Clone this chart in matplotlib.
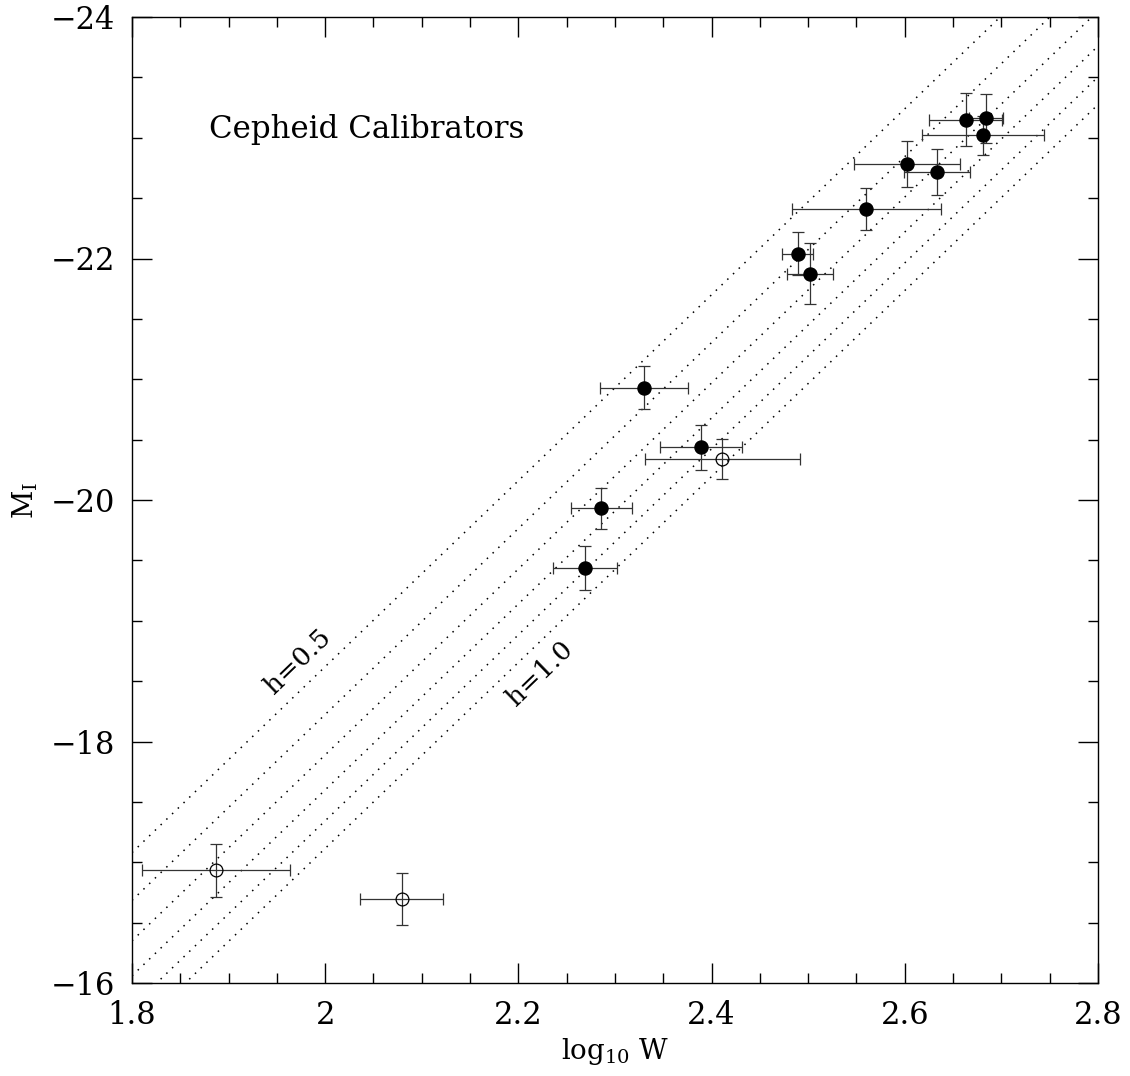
import numpy as np
import matplotlib
matplotlib.use("Agg")
import matplotlib.pyplot as plt
from matplotlib.ticker import MultipleLocator, FuncFormatter

# ---- data ----
filled_logw = [2.663, 2.684, 2.681, 2.602, 2.633, 2.560, 2.489, 2.502,
               2.330, 2.389, 2.286, 2.269]
filled_mag = [-23.15, -23.16, -23.02, -22.78, -22.72, -22.41, -22.04, -21.875,
              -20.93, -20.435, -19.93, -19.435]
filled_xerr = [0.038, 0.018, 0.063, 0.055, 0.034, 0.077, 0.016, 0.024,
               0.046, 0.042, 0.032, 0.033]
filled_yerr = [0.22, 0.20, 0.16, 0.19, 0.19, 0.17, 0.18, 0.25,
               0.18, 0.19, 0.17, 0.18]

open_logw = [2.411, 1.887, 2.079]
open_mag = [-20.34, -16.934, -16.694]
open_xerr = [0.080, 0.077, 0.043]
open_yerr = [0.167, 0.22, 0.217]

# Tully-Fisher relation lines: M = tf_zero + tf_slope*(logW - tf_pivot) + 5 log10(h/0.5)
tf_slope = -7.7
tf_pivot = 2.5
tf_zero = -22.47
h_values = [0.5, 0.6, 0.7, 0.8, 0.9, 1.0]

x_ticks_major = [1.8, 2.0, 2.2, 2.4, 2.6, 2.8]
y_ticks_major = [-24, -22, -20, -18, -16]

plt.rcParams['font.family'] = ['DejaVu Serif']
plt.rcParams['mathtext.fontset'] = 'dejavuserif'

fig = plt.figure(figsize=(11.30, 10.76), dpi=100)
ax = fig.add_axes([132/1130, 1 - 983/1076, (1098-132)/1130, (983-17)/1076])

xx = np.array([1.8, 2.8])
for h in h_values:
    yy = tf_zero + tf_slope * (xx - tf_pivot) + 5 * np.log10(h / 0.5)
    ax.plot(xx, yy, color='black', lw=1.1, linestyle=(0, (1, 4.2)), zorder=1)

eb_kw = dict(ecolor='#333333', elinewidth=0.9, capsize=4.5, capthick=0.9, zorder=2)
ax.errorbar(filled_logw, filled_mag, xerr=filled_xerr, yerr=filled_yerr,
            fmt='o', ms=9.4, mfc='black', mec='black', **eb_kw)
ax.errorbar(open_logw, open_mag, xerr=open_xerr, yerr=open_yerr,
            fmt='o', ms=9.2, mfc='none', mec='black', mew=0.9, **eb_kw)

ax.text(1.880, -23.07, 'Cepheid Calibrators', fontsize=22.2, ha='left', va='center')
ax.text(1.972, -18.666, 'h=0.5', fontsize=19, rotation=44, ha='center', va='center',
        rotation_mode='anchor')
ax.text(2.222, -18.566, 'h=1.0', fontsize=19, rotation=44, ha='center', va='center',
        rotation_mode='anchor')

ax.set_xlim(1.8, 2.8)
ax.set_ylim(-16, -24)
ax.set_xticks(x_ticks_major)
ax.set_yticks(y_ticks_major)
ax.xaxis.set_minor_locator(MultipleLocator(0.05))
ax.yaxis.set_minor_locator(MultipleLocator(0.5))
fmt = FuncFormatter(lambda v, p: ('%g' % round(v, 3)).replace('-', '\u2212'))
ax.xaxis.set_major_formatter(fmt)
ax.yaxis.set_major_formatter(fmt)
ax.tick_params(which='both', direction='in', top=True, right=True, width=1, color='black')
ax.tick_params(which='major', length=14.4, labelsize=22, pad=12)
ax.tick_params(which='minor', length=7.2)
for s in ax.spines.values():
    s.set_linewidth(1)

ax.set_xlabel(r'log$_{10}$ W', fontsize=20, labelpad=4)
ax.set_ylabel(r'M$_{\mathrm{I}}$', fontsize=20, labelpad=8)

fig.savefig('out.png', dpi=100)
